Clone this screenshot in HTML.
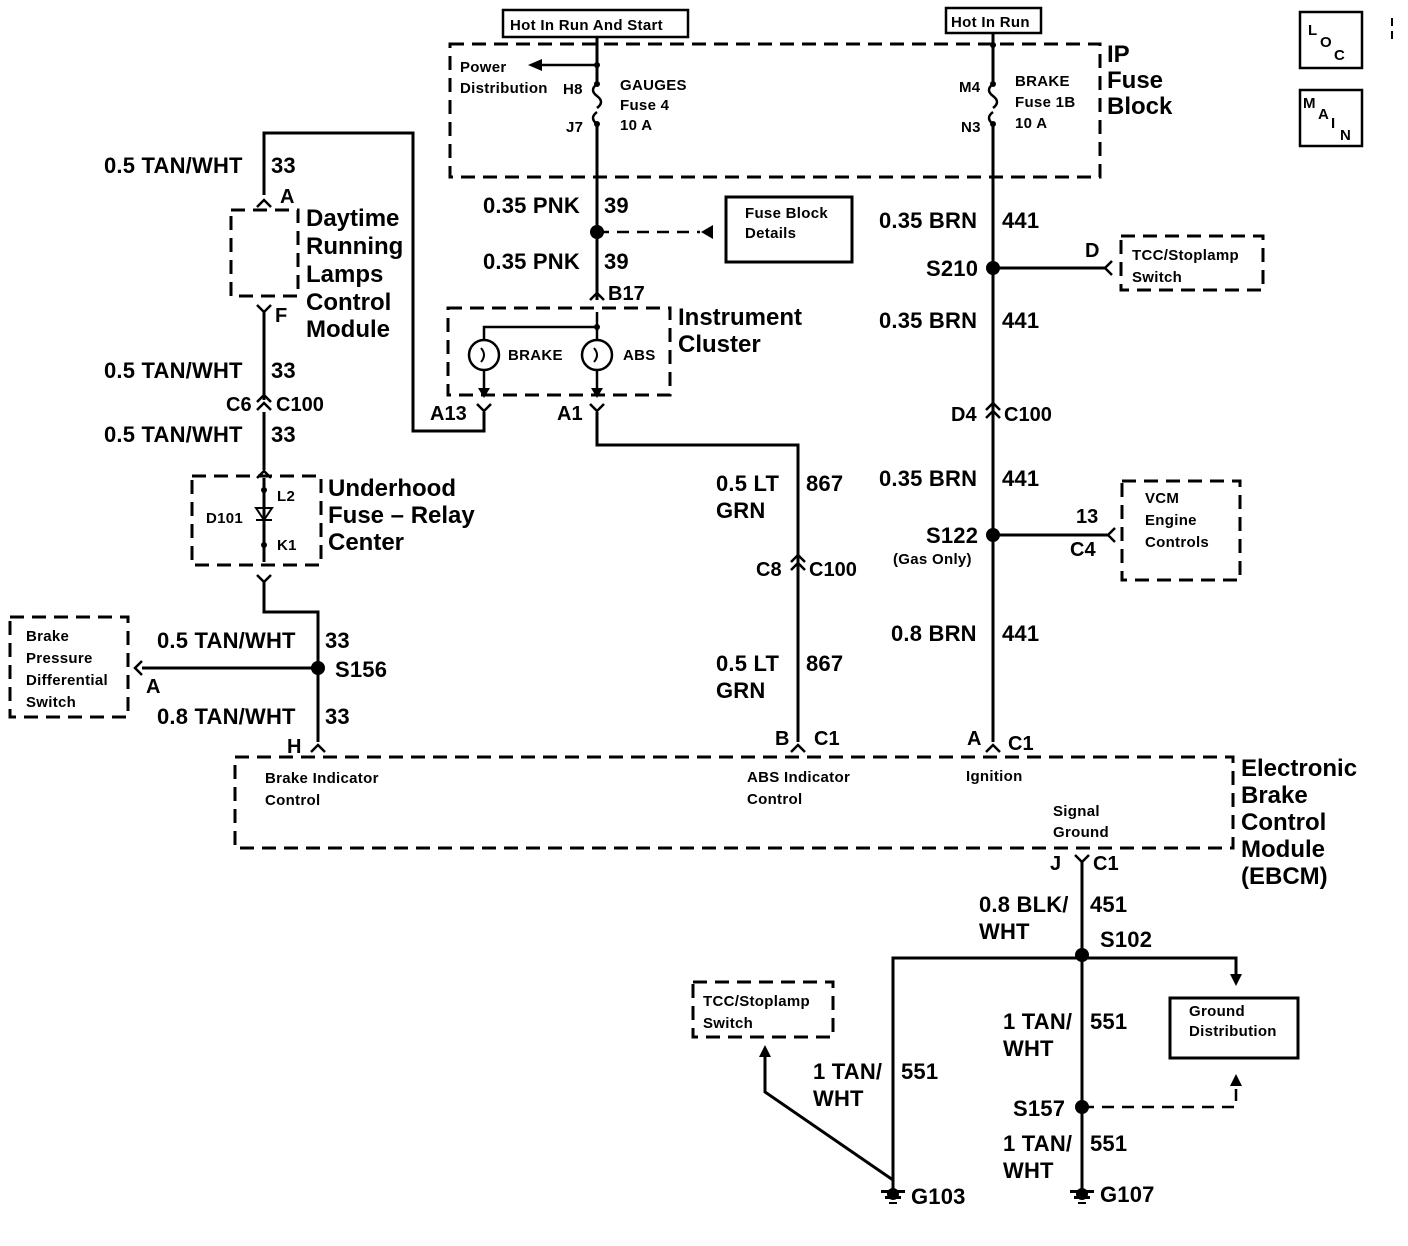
<!DOCTYPE html>
<html><head><meta charset="utf-8"><style>
html,body{margin:0;padding:0;background:#fff;}
svg{display:block;}
text{font-family:"Liberation Sans",Arial,sans-serif;fill:#000;}
.b{font-size:22px;font-weight:bold;letter-spacing:0.2px;}
.m{font-size:20px;font-weight:bold;}
.s{font-size:15px;font-weight:bold;letter-spacing:0.3px;}
.t{font-size:24px;font-weight:bold;}
</style></head><body>
<svg width="1408" height="1246" viewBox="0 0 1408 1246" xmlns="http://www.w3.org/2000/svg">
<g fill="none" stroke="#000" stroke-width="3">
<rect x="503" y="10" width="185" height="27" stroke-width="2.5"/>
<rect x="946" y="8" width="95" height="25" stroke-width="2.5"/>
<rect x="1300" y="12" width="62" height="56" stroke-width="2.5"/>
<rect x="1300" y="90" width="62" height="56" stroke-width="2.5"/>
<line x1="1392" y1="18" x2="1392" y2="42" stroke-dasharray="8,5" stroke-width="2"/>
<rect x="450" y="44" width="650" height="133" stroke-dasharray="14,8"/>
<path d="M597 37 V84 M597 124 V300"/>
<path d="M597 84 q-8 6 0 12 q8 6 0 12 M597 112 q-8 6 0 12" stroke-width="2.5"/>
<path d="M993 33 V84 M993 124 V742"/>
<path d="M993 84 q-8 6 0 12 q8 6 0 12 M993 112 q-8 6 0 12" stroke-width="2.5"/>
<line x1="597" y1="65" x2="540" y2="65" stroke-width="2.5"/>
<line x1="597" y1="232" x2="700" y2="232" stroke-dasharray="12,8" stroke-width="2.5"/>
<rect x="726" y="197" width="126" height="65"/>
<rect x="448" y="308" width="222" height="87" stroke-dasharray="14,8"/>
<path d="M597 312 V340 M597 370 V392 M597 327 H484 V340 M484 370 V392" stroke-width="2.5"/>
<circle cx="484" cy="355" r="15" stroke-width="2.5"/>
<circle cx="597" cy="355" r="15" stroke-width="2.5"/>
<path d="M481 348 q6 7 0 14 M594 348 q6 7 0 14" stroke-width="2"/>
<path d="M484 412 V431 H413 V133 H264 V195"/>
<path d="M597 412 V445 H798 V742"/>
<rect x="231" y="210" width="67" height="86" stroke-dasharray="14,8"/>
<path d="M264 312 V400 M264 412 V470"/>
<rect x="192" y="476" width="129" height="89" stroke-dasharray="14,8"/>
<path d="M264 478 V562 M264 582 V612 H318 V742" />
<path d="M256 508 h16 l-8 12 z M256 520 h16" stroke-width="2"/>
<rect x="10" y="617" width="118" height="100" stroke-dasharray="14,8"/>
<line x1="142" y1="668" x2="318" y2="668"/>
<rect x="235" y="757" width="998" height="91" stroke-dasharray="14,8"/>
<line x1="993" y1="268" x2="1105" y2="268"/>
<rect x="1121" y="236" width="142" height="54" stroke-dasharray="14,8"/>
<line x1="993" y1="535" x2="1108" y2="535"/>
<rect x="1122" y="481" width="118" height="99" stroke-dasharray="14,8"/>
<path d="M1082 860 V1190"/>
<path d="M893 1190 V958 H1236 V978"/>
<rect x="1170" y="998" width="128" height="60"/>
<path d="M1082 1107 H1236 V1082" stroke-dasharray="12,8" stroke-width="2.5"/>
<rect x="693" y="982" width="140" height="55" stroke-dasharray="14,8"/>
<path d="M893 1180 L765 1092 V1055"/>
<g stroke-width="2.5">
<path d="M590 300 l7 -7 l7 7"/>
<path d="M257 207 l7 -7 l7 7"/>
<path d="M257 305 l7 7 l7 -7"/>
<path d="M257 402 l7 -7 l7 7 M257 410 l7 -7 l7 7"/>
<path d="M257 478 l7 -7 l7 7"/>
<path d="M257 575 l7 7 l7 -7"/>
<path d="M477 404 l7 7 l7 -7"/>
<path d="M590 404 l7 7 l7 -7"/>
<path d="M791 562 l7 -7 l7 7 M791 570 l7 -7 l7 7"/>
<path d="M986 410 l7 -7 l7 7 M986 418 l7 -7 l7 7"/>
<path d="M311 752 l7 -7 l7 7"/>
<path d="M791 752 l7 -7 l7 7"/>
<path d="M986 752 l7 -7 l7 7"/>
<path d="M1075 855 l7 7 l7 -7"/>
<path d="M142 661 l-7 7 l7 7"/>
<path d="M1112 261 l-7 7 l7 7"/>
<path d="M1115 528 l-7 7 l7 7"/>
</g>
</g>
<g fill="#000">
<circle cx="597" cy="232" r="7"/><circle cx="993" cy="268" r="7"/>
<circle cx="993" cy="535" r="7"/><circle cx="318" cy="668" r="7"/>
<circle cx="1082" cy="955" r="7"/><circle cx="1082" cy="1107" r="7"/>
<circle cx="597" cy="65" r="3"/><circle cx="597" cy="84" r="3"/><circle cx="597" cy="124" r="3"/>
<circle cx="993" cy="45" r="3"/><circle cx="993" cy="84" r="3"/><circle cx="993" cy="124" r="3"/>
<circle cx="597" cy="327" r="3"/><circle cx="264" cy="490" r="3"/><circle cx="264" cy="545" r="3"/>
<path d="M528 65 l14 -6 v12 z"/>
<path d="M701 232 l12 -7 v14 z"/>
<path d="M484 398 l-6 -10 h12 z M597 398 l-6 -10 h12 z"/>
<path d="M1236 986 l-6 -12 h12 z"/>
<path d="M1236 1074 l-6 12 h12 z"/>
<path d="M765 1045 l-6 12 h12 z"/>
<path d="M881 1190 h24 v3 h-24z M885 1196 h16 v3 h-16z M889 1202 h8 v2 h-8z"/>
<path d="M1070 1190 h24 v3 h-24z M1074 1196 h16 v3 h-16z M1078 1202 h8 v2 h-8z"/>
<circle cx="893" cy="1194" r="6"/><circle cx="1082" cy="1194" r="6"/>
</g>
<text class="s" x="510" y="30">Hot In Run And Start</text>
<text class="s" x="951" y="27">Hot In Run</text>
<text class="s" x="1308" y="35">L</text><text class="s" x="1320" y="47">O</text><text class="s" x="1334" y="60">C</text>
<text class="s" x="1303" y="108">M</text><text class="s" x="1318" y="119">A</text><text class="s" x="1331" y="128">I</text><text class="s" x="1340" y="140">N</text>
<text class="s" x="460" y="72">Power</text><text class="s" x="460" y="93">Distribution</text>
<text class="s" x="563" y="94">H8</text><text class="s" x="566" y="132">J7</text>
<text class="s" x="620" y="90">GAUGES</text><text class="s" x="620" y="110">Fuse 4</text><text class="s" x="620" y="130">10 A</text>
<text class="s" x="959" y="92">M4</text><text class="s" x="961" y="132">N3</text>
<text class="s" x="1015" y="86">BRAKE</text><text class="s" x="1015" y="107">Fuse 1B</text><text class="s" x="1015" y="128">10 A</text>
<text class="t" x="1107" y="62">IP</text><text class="t" x="1107" y="88">Fuse</text><text class="t" x="1107" y="114">Block</text>
<text class="b" x="483" y="213">0.35 PNK</text><text class="b" x="604" y="213">39</text>
<text class="b" x="483" y="269">0.35 PNK</text><text class="b" x="604" y="269">39</text>
<text class="m" x="608" y="300">B17</text>
<text class="s" x="745" y="218">Fuse Block</text><text class="s" x="745" y="238">Details</text>
<text class="s" x="508" y="360">BRAKE</text><text class="s" x="623" y="360">ABS</text>
<text class="t" x="678" y="325">Instrument</text><text class="t" x="678" y="352">Cluster</text>
<text class="m" x="430" y="420">A13</text><text class="m" x="557" y="420">A1</text>
<text class="b" x="104" y="173">0.5 TAN/WHT</text><text class="b" x="271" y="173">33</text>
<text class="m" x="280" y="203">A</text>
<text class="t" x="306" y="226">Daytime</text><text class="t" x="306" y="254">Running</text><text class="t" x="306" y="282">Lamps</text><text class="t" x="306" y="310">Control</text><text class="t" x="306" y="337">Module</text>
<text class="m" x="275" y="322">F</text>
<text class="b" x="104" y="378">0.5 TAN/WHT</text><text class="b" x="271" y="378">33</text>
<text class="m" x="226" y="411">C6</text><text class="m" x="276" y="411">C100</text>
<text class="b" x="104" y="442">0.5 TAN/WHT</text><text class="b" x="271" y="442">33</text>
<text class="t" x="328" y="496">Underhood</text><text class="t" x="328" y="523">Fuse – Relay</text><text class="t" x="328" y="550">Center</text>
<text class="s" x="277" y="501">L2</text><text class="s" x="277" y="550">K1</text><text class="s" x="206" y="523">D101</text>
<text class="s" x="26" y="641">Brake</text><text class="s" x="26" y="663">Pressure</text><text class="s" x="26" y="685">Differential</text><text class="s" x="26" y="707">Switch</text>
<text class="m" x="146" y="693">A</text>
<text class="b" x="157" y="648">0.5 TAN/WHT</text><text class="b" x="325" y="648">33</text>
<text class="b" x="335" y="677">S156</text>
<text class="b" x="157" y="724">0.8 TAN/WHT</text><text class="b" x="325" y="724">33</text>
<text class="m" x="287" y="753">H</text>
<text class="s" x="265" y="783">Brake Indicator</text><text class="s" x="265" y="805">Control</text>
<text class="b" x="716" y="491">0.5 LT</text><text class="b" x="716" y="518">GRN</text><text class="b" x="806" y="491">867</text>
<text class="m" x="756" y="576">C8</text><text class="m" x="809" y="576">C100</text>
<text class="b" x="716" y="671">0.5 LT</text><text class="b" x="716" y="698">GRN</text><text class="b" x="806" y="671">867</text>
<text class="m" x="775" y="745">B</text><text class="m" x="814" y="745">C1</text>
<text class="s" x="747" y="782">ABS Indicator</text><text class="s" x="747" y="804">Control</text>
<text class="b" x="879" y="228">0.35 BRN</text><text class="b" x="1002" y="228">441</text>
<text class="b" x="926" y="276">S210</text>
<text class="m" x="1085" y="257">D</text>
<text class="s" x="1132" y="260">TCC/Stoplamp</text><text class="s" x="1132" y="282">Switch</text>
<text class="b" x="879" y="328">0.35 BRN</text><text class="b" x="1002" y="328">441</text>
<text class="m" x="951" y="421">D4</text><text class="m" x="1004" y="421">C100</text>
<text class="b" x="879" y="486">0.35 BRN</text><text class="b" x="1002" y="486">441</text>
<text class="b" x="926" y="543">S122</text>
<text class="s" x="893" y="564">(Gas Only)</text>
<text class="m" x="1076" y="523">13</text><text class="m" x="1070" y="556">C4</text>
<text class="s" x="1145" y="503">VCM</text><text class="s" x="1145" y="525">Engine</text><text class="s" x="1145" y="547">Controls</text>
<text class="b" x="891" y="641">0.8 BRN</text><text class="b" x="1002" y="641">441</text>
<text class="m" x="967" y="745">A</text><text class="m" x="1008" y="750">C1</text>
<text class="s" x="966" y="781">Ignition</text>
<text class="s" x="1053" y="816">Signal</text><text class="s" x="1053" y="837">Ground</text>
<text class="m" x="1050" y="870">J</text><text class="m" x="1093" y="870">C1</text>
<text class="t" x="1241" y="776">Electronic</text><text class="t" x="1241" y="803">Brake</text><text class="t" x="1241" y="830">Control</text><text class="t" x="1241" y="857">Module</text><text class="t" x="1241" y="884">(EBCM)</text>
<text class="b" x="979" y="912">0.8 BLK/</text><text class="b" x="979" y="939">WHT</text><text class="b" x="1090" y="912">451</text>
<text class="b" x="1100" y="947">S102</text>
<text class="s" x="1189" y="1016">Ground</text><text class="s" x="1189" y="1036">Distribution</text>
<text class="s" x="703" y="1006">TCC/Stoplamp</text><text class="s" x="703" y="1028">Switch</text>
<text class="b" x="1003" y="1029">1 TAN/</text><text class="b" x="1003" y="1056">WHT</text><text class="b" x="1090" y="1029">551</text>
<text class="b" x="813" y="1079">1 TAN/</text><text class="b" x="813" y="1106">WHT</text><text class="b" x="901" y="1079">551</text>
<text class="b" x="1013" y="1116">S157</text>
<text class="b" x="1003" y="1151">1 TAN/</text><text class="b" x="1003" y="1178">WHT</text><text class="b" x="1090" y="1151">551</text>
<text class="b" x="911" y="1204">G103</text><text class="b" x="1100" y="1202">G107</text>
</svg>
</body></html>
